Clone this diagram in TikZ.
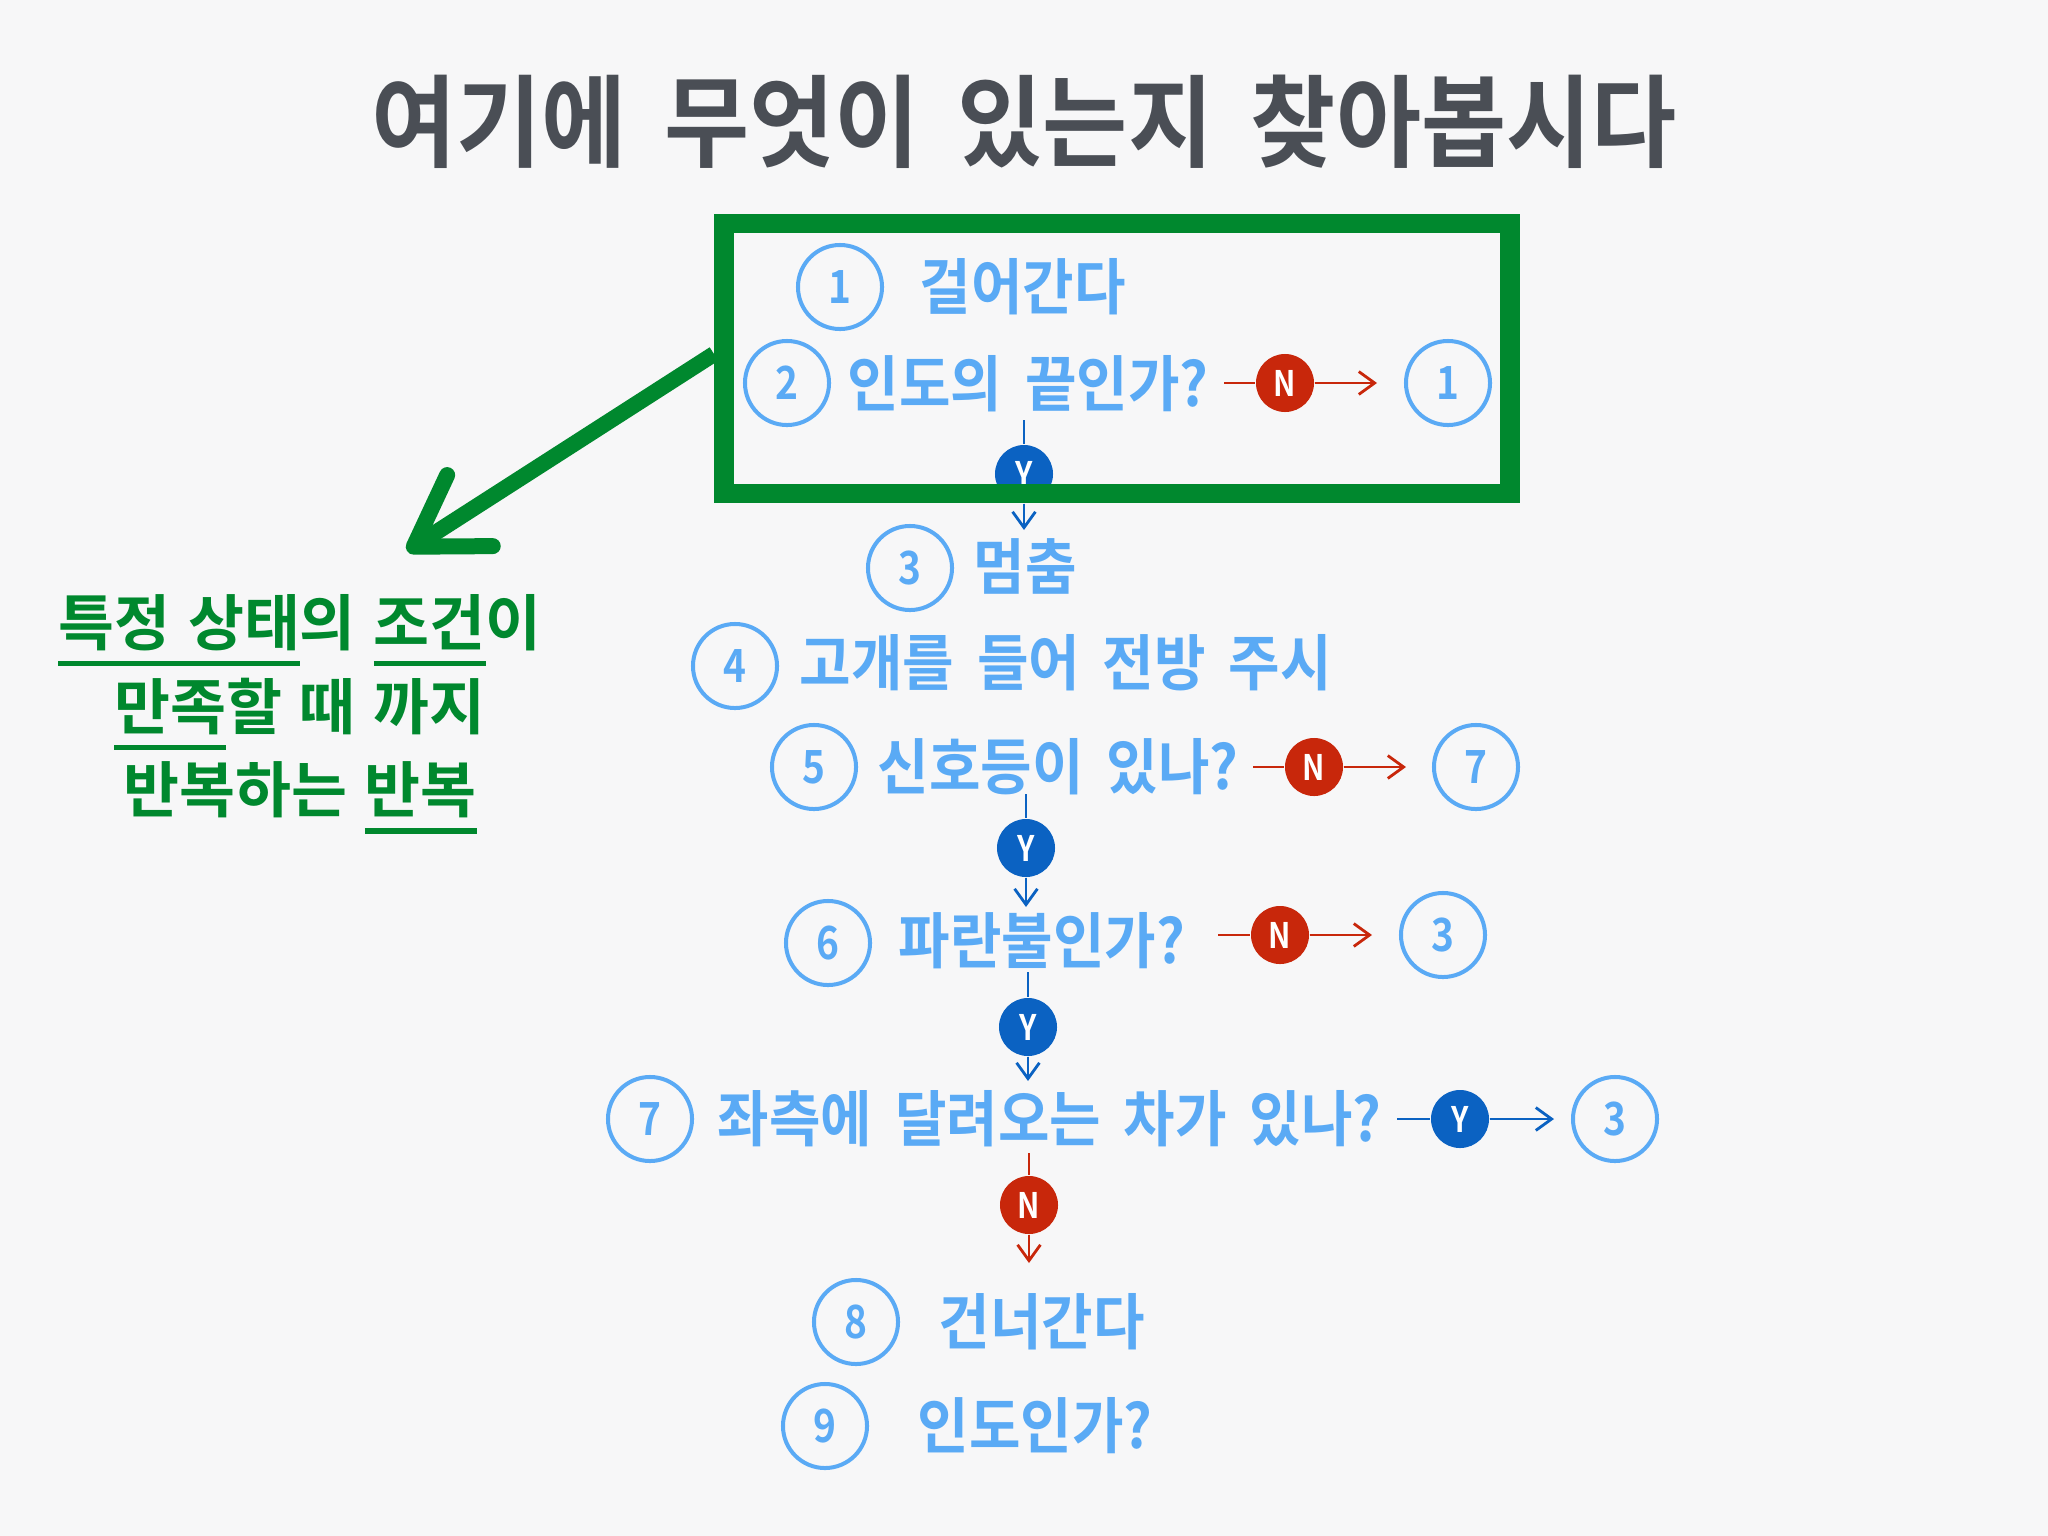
\documentclass[tikz,border=0pt]{standalone}
\usepackage{fontspec}
\usetikzlibrary{arrows.meta}
\newfontfamily\krfont{Noto Sans CJK KR Bold}[FakeStretch=0.92, WordSpace=1.0]
\newfontfamily\krtitle{Noto Sans CJK KR Bold}[FakeStretch=0.92, WordSpace=1.8]
\newfontfamily\krwide{Noto Sans CJK KR Bold}[WordSpace=1.3]
\newfontfamily\krnum{Noto Sans CJK KR Bold}[FakeStretch=0.85]
\definecolor{bgcol}{HTML}{F7F7F8}
\definecolor{titlegray}{HTML}{4A4E55}
\definecolor{stepblue}{HTML}{5AAAF5}
\definecolor{yesblue}{HTML}{0B62C2}
\definecolor{nored}{HTML}{C8270B}
\definecolor{loopgreen}{HTML}{00882E}
\newsavebox\ulbox
\newcommand{\grnul}[1]{\sbox\ulbox{#1}\rlap{\rule[-0.34em]{\wd\ulbox}{0.085em}}\usebox\ulbox}
\begin{document}
\begin{tikzpicture}[x=0.01cm, y=-0.01cm,
    stepnum/.style={circle, draw=stepblue, line width=1.14pt, minimum size=23.9pt,
      inner sep=0pt, text=stepblue, font=\krnum\fontsize{13}{13}\selectfont},
    steptext/.style={anchor=west, inner sep=0pt, text=stepblue,
      font=\krfont\fontsize{17.3}{20}\selectfont},
    yesdot/.style={circle, fill=yesblue, minimum size=16.5pt, inner sep=0pt,
      text=white, font=\krnum\fontsize{10}{10}\selectfont},
    nodot/.style={yesdot, fill=nored},
    ylink/.style={draw=yesblue, line width=0.8pt},
    nlink/.style={draw=nored, line width=0.8pt},
    >={Straight Barb[length=4.5pt, width=6.5pt]}]
    % page
    \fill[bgcol] (0,0) rectangle (2048,1536);
    \useasboundingbox (0,0) rectangle (2048,1536);

    % title
    \node[text=titlegray, font=\krtitle\fontsize{28.6}{30}\selectfont] (title) at (1024,122)
      {여기에 무엇이 있는지 찾아봅시다};

    % steps
    \foreach \n/\lbl/\cx/\cy/\tx/\ty/\txt in {
        1/1/840/287/919/287/걸어간다,
        2/2/787/383/847/384/인도의 끝인가?,
        3/3/910/568/973/566/멈춤,
        4/4/735/666/799/663/고개를 들어 전방 주시,
        5/5/814/767/877/767/신호등이 있나?,
        6/6/828/943/898/941/파란불인가?,
        7/7/650/1119/717/1119/좌측에 달려오는 차가 있나?,
        8/8/856/1322/938/1322/건너간다,
        9/9/825/1426/917/1426/인도인가?}{
      \node[stepnum] (c\n) at (\cx,\cy) {\lbl};
      \node[steptext] (t\n) at (\tx,\ty) {\txt};
    }

    % jump targets
    \node[stepnum] (r2) at (1448,383) {1};
    \node[stepnum] (r5) at (1476,767) {7};
    \node[stepnum] (r6) at (1443,935) {3};
    \node[stepnum] (r7) at (1615,1119) {3};

    % answer badges
    \node[yesdot] (y2) at (1024,474) {Y};
    \node[nodot] (n2) at (1285,383) {N};
    \node[nodot] (n5) at (1314,767) {N};
    \node[yesdot] (y5) at (1026,848) {Y};
    \node[nodot] (n6) at (1280,935) {N};
    \node[yesdot] (y6) at (1028,1027) {Y};
    \node[yesdot] (y7) at (1460,1119) {Y};
    \node[nodot] (n7) at (1029,1205) {N};

    % free ends
    \coordinate (a2) at (1024,420);
    \coordinate (b2) at (1024,530);
    \coordinate (h2) at (1224,383);
    \coordinate (g2) at (1377,383);
    \coordinate (a5) at (1026,794);
    \coordinate (b5) at (1026,907);
    \coordinate (h5) at (1253,767);
    \coordinate (g5) at (1406,767);
    \coordinate (a6) at (1028,972);
    \coordinate (b6) at (1028,1081);
    \coordinate (h6) at (1218,935);
    \coordinate (g6) at (1372,935);
    \coordinate (a7) at (1029,1153);
    \coordinate (b7) at (1029,1263);
    \coordinate (h7) at (1397,1119);
    \coordinate (g7) at (1554,1119);

    % links
    \draw[ylink] (a2) -- (y2);
    \draw[ylink,->] (y2) -- (b2);
    \draw[nlink] (h2) -- (n2);
    \draw[nlink,->] (n2) -- (g2);
    \draw[ylink] (a5) -- (y5);
    \draw[ylink,->] (y5) -- (b5);
    \draw[nlink] (h5) -- (n5);
    \draw[nlink,->] (n5) -- (g5);
    \draw[ylink] (a6) -- (y6);
    \draw[ylink,->] (y6) -- (b6);
    \draw[nlink] (h6) -- (n6);
    \draw[nlink,->] (n6) -- (g6);
    \draw[nlink] (a7) -- (n7);
    \draw[nlink,->] (n7) -- (b7);
    \draw[ylink] (h7) -- (y7);
    \draw[ylink,->] (y7) -- (g7);

    % loop box and pointer
    \coordinate (tip) at (407,551);
    \draw[loopgreen, line width=4.55pt,
      -{Straight Barb[length=19pt, width=24pt, round]}] (714,354) -- (tip);
    \node[draw=loopgreen, line width=5.55pt, minimum width=223.6pt,
      minimum height=76.8pt, inner sep=0pt] (loop) at (1117,358.5) {};

    % note
    \node[text=loopgreen, align=center, inner sep=0pt,
      font=\krwide\fontsize{17.3}{23.8}\selectfont] (note) at (300,714)
      {\grnul{특정 상태}의 \grnul{조건}이\\ \grnul{만족}할 때 까지\\ 반복하는 \grnul{반복}};
\end{tikzpicture}
\end{document}
